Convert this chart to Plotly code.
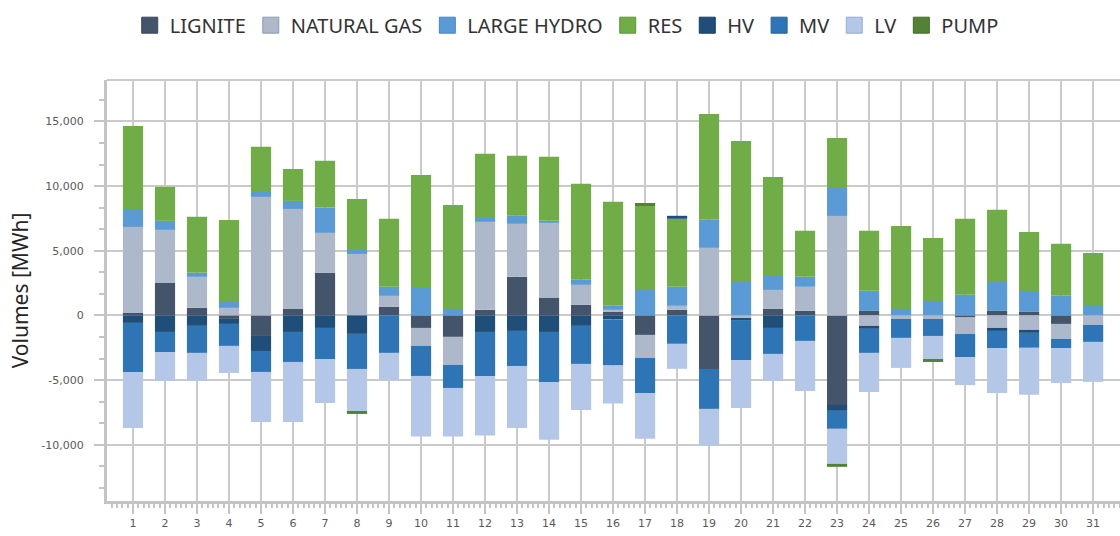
import plotly.graph_objects as go

DAYS = list(range(1, 32))
DAY_LABELS = [str(d) for d in DAYS]

LIGNITE = [190, 2510, 580, -270, -1590, 500, 3290, 0, 660, -970, -1660, 430, 2980, 1350, 810,
           270, -1510, 430, -4140, 0, 500, 350, -6920, 350, 0, 0, -160, 350, 270, -660, 0]
NATURAL_GAS = [6650, 4100, 2400, 580, 9160, 7730, 3090, 4750, 850, -1390, -2170, 6800, 4100, 5800, 1550,
               160, -1780, 310, 5220, -200, 1470, 1860, 7690, -810, -270, -270, -1280, -970, -1120, -1160, -730]
LARGE_HYDRO = [1390, 700, 310, 460, 390, 620, 1960, 310, 700, 2200, 500, 310, 620, 160, 390,
               310, 1970, 1470, 2170, 2590, 1080, 770, 2160, 1550, 500, 1120, 1590, 2240, 1620, 1510, 810]
RES = [6420, 2630, 4330, 6340, 3480, 2470, 3610, 3940, 5260, 8660, 8040, 4950, 4640, 4950, 7420,
       8040, 6490, 5260, 8190, 10900, 7650, 3560, 3870, 4640, 6420, 4870, 5880, 5570, 4560, 4020, 4020]
HV = [-580, -1280, -810, -390, -1160, -1280, -970, -1430, 0, 0, 0, -1280, -1200, -1280, -810,
      -310, 0, 230, 0, -160, -970, 0, -460, -230, 0, 0, 0, -230, -230, 0, 0]
MV = [-3790, -1550, -2090, -1700, -1620, -2320, -2400, -2710, -2900, -2320, -1780, -3400, -2710, -3870, -2940,
      -3560, -2710, -2200, -3090, -3090, -2010, -1970, -1390, -1860, -1470, -1320, -1780, -1320, -1160, -700, -1320]
LV = [-4330, -2240, -2160, -2090, -3870, -4640, -3400, -3250, -2090, -4690, -3760, -4610, -4790, -4460, -3560,
      -2940, -3530, -1930, -2840, -3710, -2090, -3870, -2710, -3020, -2320, -1780, -2170, -3480, -3630, -2710, -3090]
PUMP = [0, 0, 0, 0, 0, 0, 0, -230, 0, 0, 0, 0, 0, 0, 0,
        0, 230, 0, 0, 0, 0, 0, -230, 0, 0, -230, 0, 0, 0, 0, 0]

SERIES = [
    ("LIGNITE", LIGNITE, "#44546A", "#39475a"),
    ("NATURAL GAS", NATURAL_GAS, "#ADB9CA", "#8f9cae"),
    ("LARGE HYDRO", LARGE_HYDRO, "#5B9BD5", "#4a86bd"),
    ("RES", RES, "#70AD47", "#5e9539"),
    ("HV", HV, "#1F4E79", "#183f63"),
    ("MV", MV, "#2E75B6", "#25639c"),
    ("LV", LV, "#B4C7E7", "#97abcd"),
    ("PUMP", PUMP, "#548235", "#446b2a"),
]

fig = go.Figure()
for name, vals, col, dark in SERIES:
    fig.add_trace(go.Bar(x=DAYS, y=vals, name=name, marker=dict(color=col, line=dict(width=0)),
                         showlegend=False))
for name, vals, col, dark in SERIES:
    fig.add_trace(go.Scatter(x=[None], y=[None], mode="markers", name=name,
                             marker=dict(symbol="square", size=16, color=col,
                                         line=dict(color=dark, width=1))))

GRID = "#cacaca"
AXIS = "#c4c4c4"
TXT = "#595959"

fig.update_layout(
    width=1120, height=536,
    margin=dict(l=107, r=0, t=80, b=35),
    paper_bgcolor="white", plot_bgcolor="white",
    barmode="relative", bargap=0.37,
    font=dict(family="Noto Sans", color=TXT),
    legend=dict(orientation="h", xref="container", yref="container",
                x=0.506, xanchor="center", y=0.953, yanchor="middle",
                font=dict(family="Noto Sans", size=20, color="#333333"),
                itemclick=False),
    shapes=[dict(type="line", xref="paper", yref="paper", x0=0, x1=1, y0=1, y1=1,
                 line=dict(color=GRID, width=2), layer="below")],
)

fig.update_xaxes(
    range=[0.1875, 31.84],
    tickmode="array", tickvals=DAYS, ticktext=DAY_LABELS,
    showgrid=True, gridcolor=GRID, gridwidth=2,
    showline=True, linecolor=AXIS, linewidth=3,
    ticks="outside", ticklen=10, tickwidth=2, tickcolor=AXIS,
    tickfont=dict(family="DejaVu Sans", size=11, color=TXT),
    minor=dict(tickmode="linear", tick0=1, dtick=1 / 6, ticks="outside", ticklen=4,
               tickwidth=1.5, tickcolor=AXIS, showgrid=False),
    zeroline=False,
)

fig.update_yaxes(
    range=[-14350, 18200],
    tickmode="array", tickvals=[-10000, -5000, 0, 5000, 10000, 15000],
    ticktext=["-10,000", "-5,000", "0", "5,000", "10,000", "15,000"],
    showgrid=True, gridcolor=GRID, gridwidth=2,
    zeroline=True, zerolinecolor=GRID, zerolinewidth=2,
    showline=True, linecolor=AXIS, linewidth=3,
    ticks="outside", ticklen=10, tickwidth=2, tickcolor=AXIS,
    ticklabelstandoff=8,
    tickfont=dict(family="DejaVu Sans", size=11, color=TXT),
    minor=dict(tickmode="linear", tick0=0, dtick=5000 / 3, ticks="outside", ticklen=5,
               tickwidth=2, tickcolor=AXIS, showgrid=False),
    title=dict(text="Volumes [MWh]", font=dict(family="Noto Sans", size=21, color="#262626"),
               standoff=7),
)

fig.write_html("out.html", config={"displayModeBar": False},
               post_script="document.body.style.margin='0';document.body.style.overflow='hidden';")
